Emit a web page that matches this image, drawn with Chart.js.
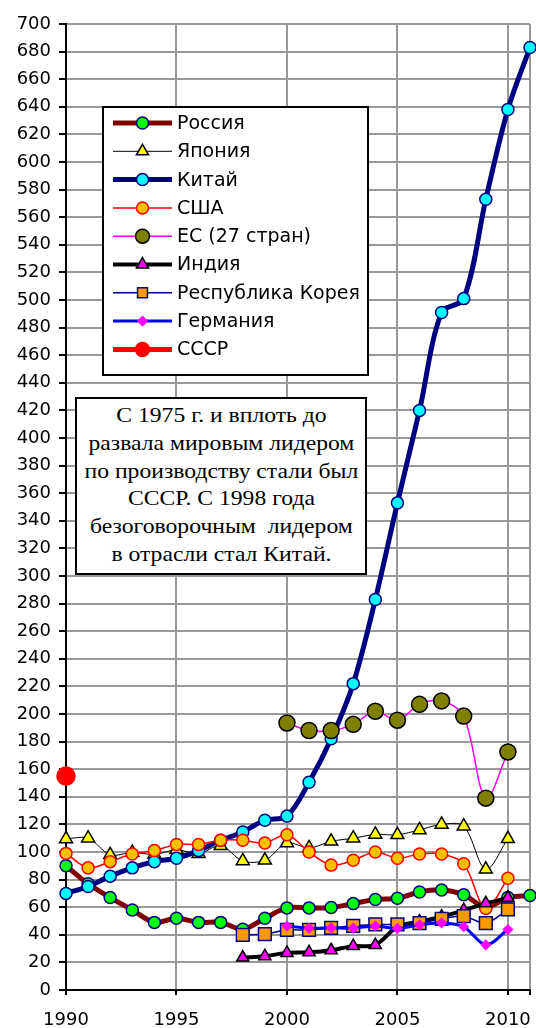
<!DOCTYPE html>
<html>
<head>
<meta charset="utf-8">
<script src="https://cdn.jsdelivr.net/npm/chart.js@4"></script>
<style>
  body { margin: 0; background: #fff; }
  #wrap { position: relative; width: 536px; height: 1028px; }
  #note {
    position: absolute; left: 75px; top: 397px; width: 292px; height: 178px;
    box-sizing: border-box; border: 2px solid #000; background: #fff;
    font-family: "Liberation Serif", "Times New Roman", serif; font-size: 21.5px;
    line-height: 27.8px; text-align: center; padding-top: 3px; white-space: nowrap;
  }
  #note span { display: inline-block; transform: scaleX(1.1); transform-origin: center; }
</style>
</head>
<body>
<div id="wrap">
  <canvas id="steel" width="536" height="1028"></canvas>
  <div id="note"><span>С 1975 г. и вплоть до<br>развала мировым лидером<br>по производству стали был<br>СССР. С 1998 года<br>безоговорочным&nbsp; лидером<br>в отрасли стал Китай.</span></div>
</div>
<script>
// годы 1990–2011
const years = [1990, 1991, 1992, 1993, 1994, 1995, 1996, 1997, 1998, 1999, 2000,
               2001, 2002, 2003, 2004, 2005, 2006, 2007, 2008, 2009, 2010, 2011];
const yearTicks = [1990, 1995, 2000, 2005, 2010, 2011];

// производство стали, млн т
const russia  = [90, 77, 67, 58, 49, 52, 49, 49, 44, 52, 59.5, 59.5, 59.8, 62.6, 65.6, 66.5, 71, 72.5, 69, 60, 67, 68.5];
const japan   = [109.5, 110, 98, 99.6, 98.3, 101.6, 98.8, 104.5, 93.5, 94, 106.5, 102.9, 107.7, 110, 112.7, 112.5, 116, 120, 118.7, 87.5, 109.6, null];
const china   = [70, 75, 82.5, 88.5, 93, 95.5, 101, 108.5, 114.5, 123, 126, 150.5, 182, 222, 283, 353, 420, 491, 501, 573, 638, 683];
const usa     = [99, 88.5, 93, 98.5, 101, 105.5, 105.5, 108.5, 108.5, 106.5, 112.5, 100, 90.5, 94, 100, 95.5, 98.5, 98.5, 91.5, 59, 81, null];
const eu27    = [null, null, null, null, null, null, null, null, null, null, 193.5, 188, 188, 192.5, 202, 195.5, 207, 209.5, 198.5, 139, 172.5, null];
const india   = [null, null, null, null, null, null, null, null, 23.5, 24.5, 26.9, 27.3, 28.8, 31.8, 32.6, 45.8, 49.5, 53.1, 57.8, 62.8, 66.8, null];
const korea   = [null, null, null, null, null, null, null, null, 40, 40.5, 43.5, 43.5, 45, 46.5, 47.5, 47.5, 48.5, 51.5, 53.5, 48.5, 58.5, null];
const germany = [null, null, null, null, null, null, null, null, null, null, 46.4, 44.8, 45, 44.8, 46.4, 44.5, 47.2, 48.6, 45.8, 32.7, 43.8, null];
const ussr    = [155, null, null, null, null, null, null, null, null, null, null,
                 null, null, null, null, null, null, null, null, null, null, null];

const seriesNames = ['Россия', 'Япония', 'Китай', 'США', 'ЕС (27 стран)', 'Индия', 'Республика Корея', 'Германия', 'СССР'];

function series(i, data, line, width, style, fill, edge, r) {
  return {
    label: seriesNames[i], data: data,
    borderColor: line, borderWidth: width, backgroundColor: fill,
    pointStyle: style, pointBackgroundColor: fill, pointBorderColor: edge,
    pointBorderWidth: 1.5, pointRadius: r, pointHoverRadius: r,
    tension: 0.33, clip: false, order: 20 - i
  };
}

const datasets = [
  series(0, russia,  '#800000', 5,   'circle',   '#00ff00', '#000080', 6),
  series(1, japan,   '#000000', 1,   'triangle', '#ffff00', '#000000', 7.5),
  series(2, china,   '#000080', 5,   'circle',   '#00ffff', '#000080', 6),
  series(3, usa,     '#ff0000', 1.5, 'circle',   '#ffc000', '#ff0000', 6),
  series(4, eu27,    '#ff00ff', 1.5, 'circle',   '#808000', '#000000', 8),
  series(5, india,   '#000000', 4,   'triangle', '#ff00ff', '#000000', 7),
  series(6, korea,   '#000080', 1.5, 'rect',     '#ff9900', '#000080', 9),
  series(7, germany, '#0000ff', 3,   'rectRot',  '#ff00ff', '#ff00ff', 4.5),
  series(8, ussr,    '#ff0000', 5,   'circle',   '#ff0000', '#ff0000', 9)
];

// легенда в рамке внутри области графика
const boxLegend = {
  id: 'boxLegend',
  afterDraw(chart) {
    const ctx = chart.ctx;
    const left = 103, top = 107, right = 368, bottom = 375;
    ctx.save();
    ctx.fillStyle = '#fff';
    ctx.fillRect(left, top, right - left, bottom - top);
    ctx.strokeStyle = '#000';
    ctx.lineWidth = 2;
    ctx.strokeRect(left, top, right - left, bottom - top);
    chart.data.datasets.forEach((ds, i) => {
      const y = 123 + i * 28.3;
      ctx.beginPath();
      ctx.strokeStyle = ds.borderColor;
      ctx.lineWidth = ds.borderWidth;
      ctx.moveTo(113, y);
      ctx.lineTo(172, y);
      ctx.stroke();
      ctx.fillStyle = ds.pointBackgroundColor;
      ctx.strokeStyle = ds.pointBorderColor;
      ctx.lineWidth = ds.pointBorderWidth;
      Chart.helpers.drawPoint(ctx, {
        pointStyle: ds.pointStyle, radius: Math.min(ds.pointRadius, 7), rotation: 0,
        borderWidth: ds.pointBorderWidth
      }, 142.5, y);
      ctx.fillStyle = '#000';
      ctx.font = '19px "DejaVu Sans"';
      ctx.textBaseline = 'middle';
      ctx.textAlign = 'left';
      ctx.fillText(ds.label, 177, y + 1);
    });
    ctx.restore();
  }
};

new Chart(document.getElementById('steel'), {
  type: 'line',
  data: { labels: years, datasets: datasets },
  plugins: [boxLegend],
  options: {
    responsive: false,
    animation: false,
    layout: { autoPadding: false, padding: { left: 0, right: 6, top: 24, bottom: 0 } },
    plugins: { legend: { display: false }, tooltip: { enabled: false } },
    scales: {
      x: {
        type: 'linear', min: 1990, max: 2011,
        afterBuildTicks(scale) { scale.ticks = yearTicks.map(v => ({ value: v })); },
        afterFit(scale) { scale.height = 38; scale.paddingLeft = 0; scale.paddingRight = 0; },
        grid: { color: '#999', lineWidth: 2, tickColor: '#000', tickLength: 5 },
        border: { color: '#000', width: 2 },
        ticks: {
          autoSkip: false, maxRotation: 0, padding: 15, color: '#000',
          font: { family: 'DejaVu Sans', size: 18 },
          callback: v => (v % 5 === 0 ? String(v) : '')
        }
      },
      y: {
        min: 0, max: 700,
        afterFit(scale) { scale.width = 66; scale.paddingTop = 0; scale.paddingBottom = 0; },
        grid: { color: '#999', lineWidth: 2, tickColor: '#000', tickLength: 7 },
        border: { color: '#000', width: 2 },
        ticks: {
          stepSize: 20, autoSkip: false, padding: 8, color: '#000',
          font: { family: 'DejaVu Sans', size: 18 }
        }
      }
    }
  }
});
</script>
</body>
</html>
